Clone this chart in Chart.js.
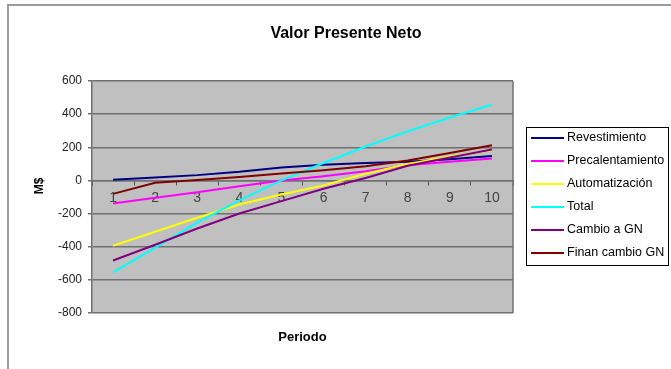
<!DOCTYPE html>
<html>
<head>
<meta charset="utf-8">
<script src="https://cdn.jsdelivr.net/npm/chart.js@4/dist/chart.umd.min.js"></script>
<style>
  html, body { margin: 0; padding: 0; background: #fff; }
  #wrap { width: 671px; height: 369px; position: relative; }
</style>
</head>
<body>
<div id="wrap"><canvas id="c" width="671" height="369"></canvas></div>
<script>
// ---- Data ----
const periodos = ['1', '2', '3', '4', '5', '6', '7', '8', '9', '10'];
const revestimiento    = [4, 18, 32, 52, 78, 95, 105, 112, 128, 148];
const precalentamiento = [-139, -105, -71, -35, 0, 25, 55, 92, 112, 132];
const automatizacion   = [-394, -310, -225, -145, -85, -30, 40, 100, 145, 182];
const total            = [-555, -405, -255, -120, 0, 105, 205, 297, 380, 457];
const cambioGN         = [-483, -388, -290, -200, -125, -50, 15, 88, 138, 186];
const finanCambioGN    = [-81, -14, 2, 20, 42, 62, 85, 120, 166, 212];
const seriesNames = ['Revestimiento', 'Precalentamiento', 'Automatización', 'Total', 'Cambio a GN', 'Finan cambio GN'];
const yTicks = [600, 400, 200, 0, -200, -400, -600, -800];

const FONT = "'Liberation Sans', Arial, sans-serif";
const colors = ['#000080', '#FF00FF', '#FFFF00', '#00FFFF', '#800080', '#800000'];
const seriesData = [revestimiento, precalentamiento, automatizacion, total, cambioGN, finanCambioGN];

const decor = {
  id: 'decor',
  beforeDraw(chart) {
    const ctx = chart.ctx, a = chart.chartArea;
    ctx.save();
    // outer chart frame
    ctx.strokeStyle = '#9a9a9a';
    ctx.lineWidth = 2;
    ctx.strokeRect(8, 5, 700, 420);
    // plot background
    ctx.fillStyle = '#c0c0c0';
    ctx.fillRect(a.left, a.top, a.right - a.left, a.bottom - a.top);
    ctx.restore();
  },
  afterDraw(chart) {
    const ctx = chart.ctx, a = chart.chartArea;
    ctx.save();
    // right border of plot
    ctx.strokeStyle = '#707070';
    ctx.lineWidth = 1.5;
    ctx.beginPath();
    ctx.moveTo(a.right, a.top);
    ctx.lineTo(a.right, a.bottom);
    ctx.stroke();
    // y axis title
    ctx.fillStyle = '#000';
    ctx.font = 'bold 12px ' + FONT;
    ctx.textAlign = 'center';
    ctx.textBaseline = 'middle';
    ctx.translate(40, 186);
    ctx.rotate(-Math.PI / 2);
    ctx.fillText('M$', 0, 0);
    ctx.restore();

    // legend
    ctx.save();
    const lx = 526, ly = 127, lw = 142, lh = 138;
    ctx.fillStyle = '#fff';
    ctx.fillRect(lx, ly, lw, lh);
    ctx.strokeStyle = '#000';
    ctx.lineWidth = 1;
    ctx.strokeRect(lx + 0.5, ly + 0.5, lw, lh);
    ctx.font = '12.5px ' + FONT;
    ctx.textAlign = 'left';
    ctx.textBaseline = 'middle';
    chart.data.datasets.forEach((ds, i) => {
      const y = 138 + 23 * i;
      ctx.strokeStyle = ds.borderColor;
      ctx.lineWidth = 2;
      ctx.beginPath();
      ctx.moveTo(531, y);
      ctx.lineTo(564, y);
      ctx.stroke();
      ctx.fillStyle = '#000';
      ctx.fillText(ds.label, 567, y);
    });
    ctx.restore();
  }
};

new Chart(document.getElementById('c'), {
  type: 'line',
  data: {
    labels: periodos,
    datasets: seriesNames.map((name, i) => ({
      label: name,
      data: seriesData[i],
      borderColor: colors[i],
      backgroundColor: colors[i],
      borderWidth: 2,
      pointRadius: 0,
      tension: 0,
      fill: false,
      order: seriesNames.length - i,
      xAxisID: 'x',
      yAxisID: 'y'
    }))
  },
  options: {
    responsive: false,
    animation: false,
    devicePixelRatio: 1,
    layout: { padding: { left: 21, top: 0, right: 0, bottom: 0 } },
    plugins: {
      legend: { display: false },
      tooltip: { enabled: false },
      title: {
        display: true,
        text: 'Valor Presente Neto',
        color: '#000',
        font: { family: FONT, size: 16, weight: 'bold' },
        padding: { top: 24, bottom: 37.8 }
      }
    },
    scales: {
      y: {
        position: 'left',
        min: -800,
        max: 600,
        afterFit(s) { s.width = 71; },
        afterBuildTicks(s) { s.ticks = yTicks.map(v => ({ value: v })); },
        grid: { color: '#707070', lineWidth: 1.5, tickLength: 4, drawTicks: true },
        border: { display: true, color: '#707070', width: 1.5 },
        ticks: { font: { family: FONT, size: 12 }, color: '#222', padding: 6 }
      },
      x: {
        type: 'category',
        position: { y: 0 },
        offset: true,
        grid: { display: true, drawOnChartArea: false, drawTicks: true, tickLength: 4, offset: true, color: '#555', lineWidth: 1 },
        border: { display: true, color: '#707070', width: 1.5 },
        ticks: { font: { family: FONT, size: 14 }, color: '#444', padding: 5, maxRotation: 0, autoSkip: false }
      },
      x2: {
        type: 'category',
        position: 'bottom',
        labels: periodos,
        afterFit(s) { s.height = 56; },
        grid: { display: false, drawTicks: false },
        border: { display: false },
        ticks: { display: false },
        title: {
          display: true,
          text: 'Periodo',
          color: '#000',
          font: { family: FONT, size: 13, weight: 'bold' },
          padding: { top: 0, bottom: 24 }
        }
      },
      y2: {
        type: 'linear',
        position: 'right',
        afterFit(s) { s.width = 158; },
        grid: { display: false, drawTicks: false },
        border: { display: false },
        ticks: { display: false }
      }
    }
  },
  plugins: [decor]
});
</script>
</body>
</html>
